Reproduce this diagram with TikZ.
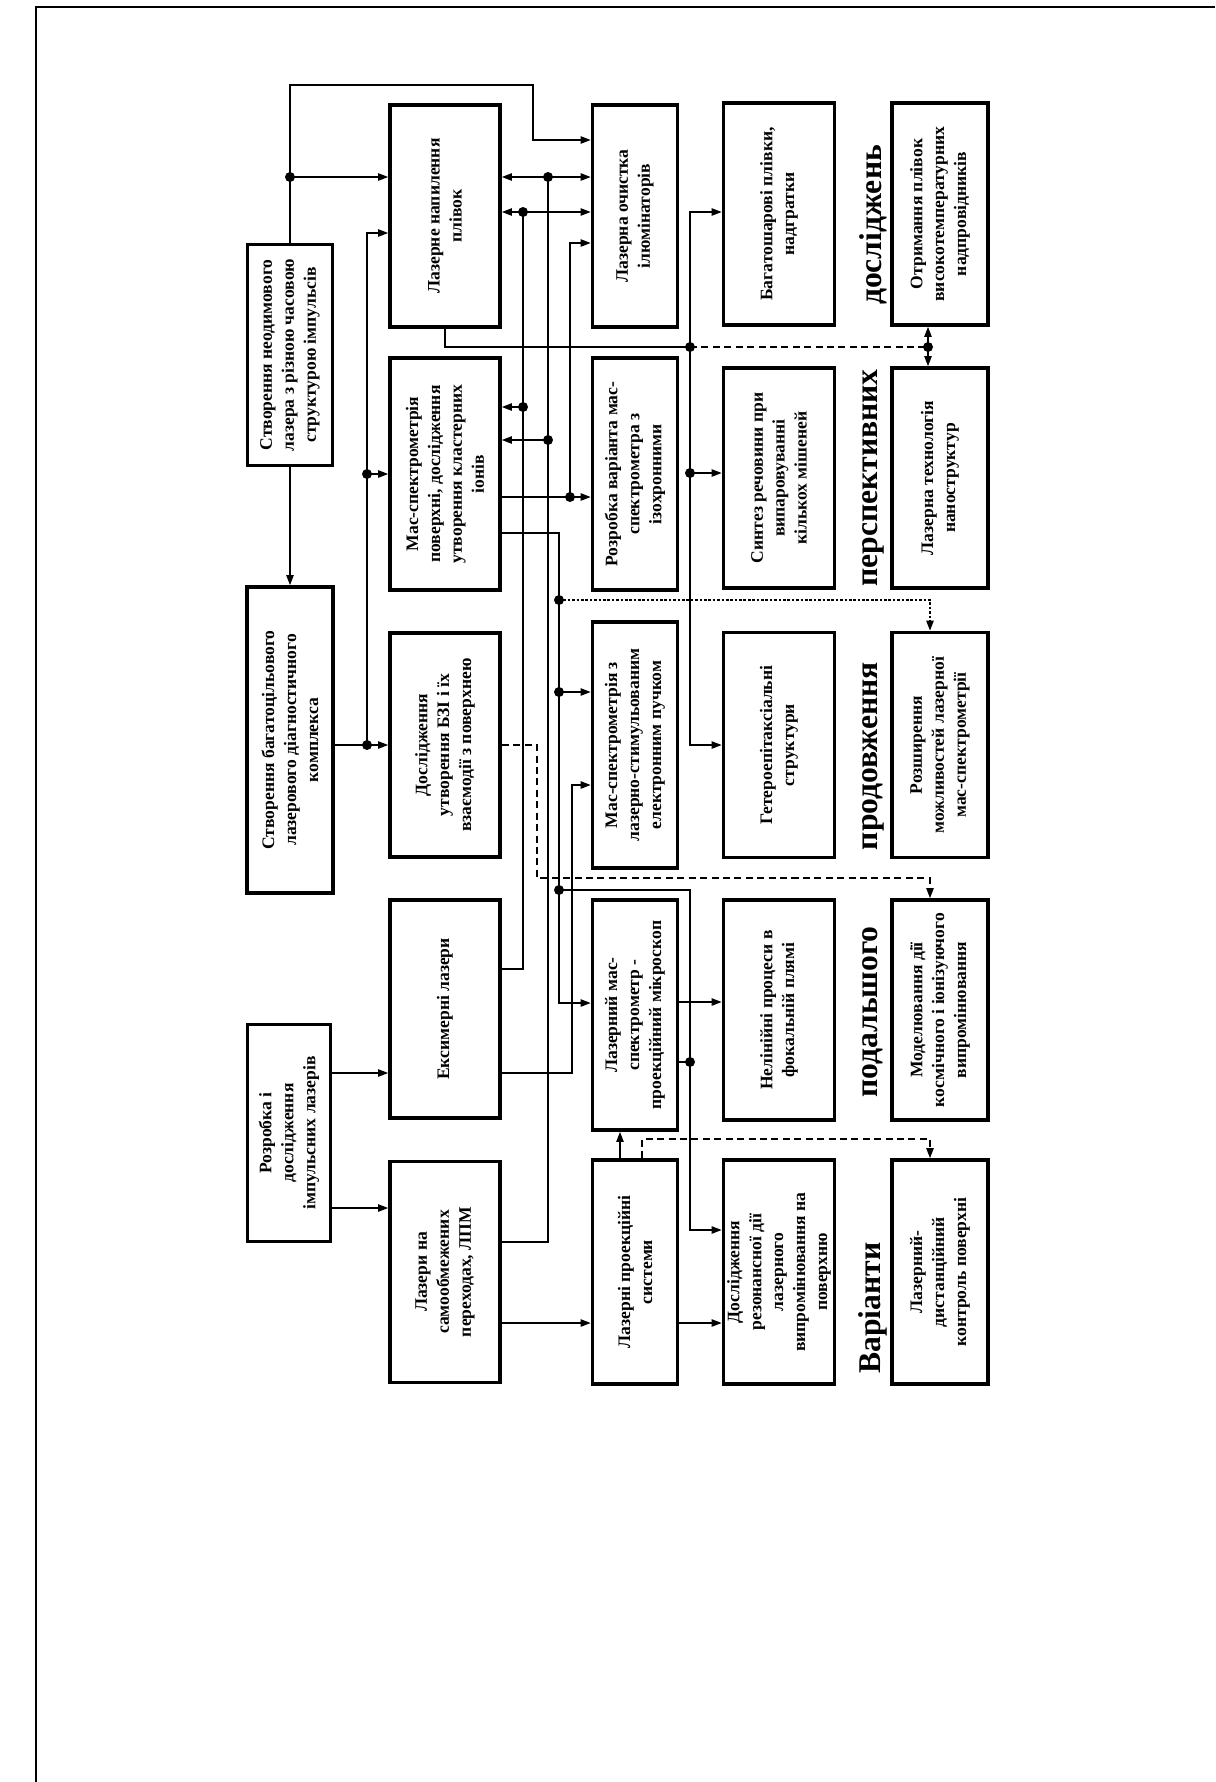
\documentclass[tikz,border=0pt]{standalone}
\usepackage{fontspec}
\setmainfont{Liberation Serif}
\usetikzlibrary{arrows.meta}

\begin{document}
\begin{tikzpicture}[x=0.02cm, y=-0.02cm,
    box/.style 2 args={draw, line width=2.2pt, inner sep=0pt,
      minimum width=#1*0.02cm, minimum height=#2*0.02cm},
    txt/.style={rotate=90, align=center,
      font=\fontsize{10}{12.5}\selectfont\bfseries},
    head/.style={rotate=90, font=\fontsize{18}{20}\selectfont\bfseries},
    ln/.style={line width=0.6pt},
    tip/.tip={Triangle[length=0.2cm, width=0.15cm]},
    arr/.style={ln, -tip},
    dbl/.style={ln, tip-tip},
    dashln/.style={ln, dash pattern=on 4pt off 2.5pt},
    dotln/.style={ln, dash pattern=on 1.5pt off 1pt},
    dot/.style={circle, fill, inner sep=0pt, minimum size=0.2cm}]
  \useasboundingbox (0,0) rectangle (1215,1782);
  % edge of the scanned sheet
  \draw[ln] (1215,7) -- (36,7) -- (36,1782);

  % first column
  \node[box={85}{221}, label={[txt]center:{Створення неодимового\\лазера з різною часовою\\структурою імпульсів}}] (A) at (290,355) {};
  \node[box={86}{306}, label={[txt]center:{Створення багатоцільового\\лазерового діагностичного\\комплекса}}] (C) at (290,740) {};
  \node[box={83}{217}, label={[txt]center:{Розробка і\\дослідження\\імпульсних лазерів}}] (D) at (289,1133) {};

  % second column
  \node[box={110}{222}, label={[txt]center:{Лазерне напилення\\плівок}}] (B1) at (445,216) {};
  \node[box={110}{232}, label={[txt]center:{Мас-спектрометрія\\поверхні, дослідження\\утворення кластерних\\іонів}}] (B2) at (445,474) {};
  \node[box={110}{224}, label={[txt]center:{Дослідження\\утворення БЗІ і їх\\взаємодії з поверхнею}}] (B3) at (445,745) {};
  \node[box={110}{218}, label={[txt]center:{Ексимерні лазери}}] (B4) at (445,1009) {};
  \node[box={110}{221}, label={[txt]center:{Лазери на\\самообмежених\\переходах, ЛПМ}}] (B5) at (445,1272) {};

  % third column
  \node[box={85}{222}, label={[txt]center:{Лазерна очистка\\ілюмінаторів}}] (E1) at (635,216) {};
  \node[box={85}{232}, label={[txt]center:{Розробка варіанта мас-\\спектрометра з\\ізохронними}}] (E2) at (635,474) {};
  \node[box={85}{246}, label={[txt]center:{Мас-спектрометрія з\\лазерно-стимульованим\\електронним пучком}}] (E3) at (635,745) {};
  \node[box={85}{230}, label={[txt]center:{Лазерний мас-\\спектрометр -\\проекційний мікроскоп}}] (E4) at (635,1015) {};
  \node[box={85}{224}, label={[txt]center:{Лазерні проекційні\\системи}}] (E5) at (635,1272) {};

  % fourth column
  \node[box={111}{222}, label={[txt]center:{Багатошарові плівки,\\надгратки}}] (F1) at (779,214) {};
  \node[box={111}{220}, label={[txt]center:{Синтез речовини при\\випаровуванні\\кількох мішеней}}] (F2) at (779,478) {};
  \node[box={111}{225}, label={[txt]center:{Гетероепітаксіальні\\структури}}] (F3) at (779,745) {};
  \node[box={111}{220}, label={[txt]center:{Нелінійні процеси в\\фокальній плямі}}] (F4) at (779,1010) {};
  \node[box={111}{224}, label={[txt]center:{Дослідження\\резонансної дії\\лазерного\\випромінювання на\\поверхню}}] (F5) at (779,1272) {};

  % headings
  \node[head] (h1) at (873,225) {досліджень};
  \node[head] (h2) at (873,478) {перспективних};
  \node[head] (h3) at (873,756) {продовження};
  \node[head] (h4) at (873,1012) {подальшого};
  \node[head] (h5) at (873,1308) {Варіанти};

  % last column
  \node[box={96}{222}, label={[txt]center:{Отримання плівок\\високотемпературних\\надпровідників}}] (G1) at (940,214) {};
  \node[box={96}{220}, label={[txt]center:{Лазерна технологія\\наноструктур}}] (G2) at (940,478) {};
  \node[box={96}{225}, label={[txt]center:{Розширення\\можливостей лазерної\\мас-спектрометрії}}] (G3) at (940,745) {};
  \node[box={96}{220}, label={[txt]center:{Моделювання дії\\космічного і іонізуючого\\випромінювання}}] (G4) at (940,1010) {};
  \node[box={96}{224}, label={[txt]center:{Лазерний-\\дистанційний\\контроль поверхні}}] (G5) at (940,1272) {};

  % junctions
  \node[dot] (j1) at (A.north |- 0,177) {};
  \node[dot] (j2) at (B3.west -| 367,0) {};
  \node[dot] (j3) at (B2.west -| 367,0) {};
  \node[dot] (j4) at (523,212) {};
  \node[dot] (j5) at (523,407) {};
  \node[dot] (j6) at (548,177) {};
  \node[dot] (j7) at (548,440) {};
  \node[dot] (j8) at (570,497) {};
  \node[dot] (j9) at (559,600) {};
  \node[dot] (j10) at (559,692) {};
  \node[dot] (j11) at (559,890) {};
  \node[dot] (j12) at (690,347) {};
  \node[dot] (j13) at (690,473) {};
  \node[dot] (j14) at (928,347) {};
  \node[dot] (j15) at (690,1062) {};

  \coordinate (a1) at (290,85);
  \coordinate (a2) at (533,85);
  \coordinate (t1) at (523,969);
  \coordinate (t2) at (548,1242);
  \coordinate (t3) at (559,533);
  \coordinate (t4) at (572,1073);
  \coordinate (t5) at (537,878);
  \coordinate (t6) at (930,1139);

  % from the first column
  \draw[arr] (A.north) -- (a1) -- (a2) |- (E1.west |- 0,140);
  \draw[arr] (j1.center) -- (B1.west |- j1);
  \draw[arr] (A.south) -- (C.north);
  \draw[arr] (C.east |- j2) -- (B3.west);
  \draw[arr] (j3.center) -- (B2.west);
  \draw[arr] (j2.center) -- (j3.center) |- (B1.west |- 0,233);
  \draw[arr] (D.east |- 0,1073) -- (B4.west |- 0,1073);
  \draw[arr] (D.east |- 0,1208) -- (B5.west |- 0,1208);

  % bus lines between second and third column
  \draw[ln] (B4.east |- t1) -- (t1) -- (j4.center);
  \draw[arr] (j5.center) -- (B2.east |- j5);
  \draw[dbl] (B1.east |- j4) -- (E1.west |- j4);
  \draw[ln] (B5.east |- t2) -- (t2) -- (j6.center);
  \draw[arr] (j7.center) -- (B2.east |- j7);
  \draw[dbl] (B1.east |- j6) -- (E1.west |- j6);
  \draw[arr] (B2.east |- j8) -- (E2.west |- j8);
  \draw[arr] (j8.center) |- (E1.west |- 0,243);
  \draw[arr] (B2.east |- t3) -- (t3) |- (E4.west |- 0,1003);
  \draw[arr] (j10.center) -- (E3.west |- j10);
  \draw[arr] (B4.east |- t4) -- (t4) |- (E3.west |- 0,785);
  \draw[arr] (E5.north -| 620,0) -- (E4.south -| 620,0);
  \draw[arr] (B5.east |- 0,1323) -- (E5.west |- 0,1323);

  % to the fourth column
  \draw[ln] (B1.south) |- (j12.center);
  \draw[arr] (j12.center) |- (F1.west |- 0,212);
  \draw[arr] (j12.center) |- (F3.west);
  \draw[arr] (j13.center) -- (F2.west |- j13);
  \draw[arr] (j11.center) -| (j15.center) |- (F5.west |- 0,1230);
  \draw[ln] (E4.east |- j15) -- (j15.center);
  \draw[arr] (E4.east |- 0,1002) -- (F4.west |- 0,1002);
  \draw[arr] (E5.east |- 0,1323) -- (F5.west |- 0,1323);

  % to the variants
  \draw[dashln] (j12.center) -- (j14.center);
  \draw[arr] (j14.center) -- (G1.south -| j14);
  \draw[arr] (j14.center) -- (G2.north -| j14);
  \draw[dotln, -tip] (j9.center) -| (G3.north -| 930,0);
  \draw[dashln, -tip] (B3.east) -| (t5) -| (G4.north -| 930,0);
  \draw[dashln, -tip] (E5.north -| 642,0) |- (t6) -- (G5.north -| t6);
\end{tikzpicture}
\end{document}
